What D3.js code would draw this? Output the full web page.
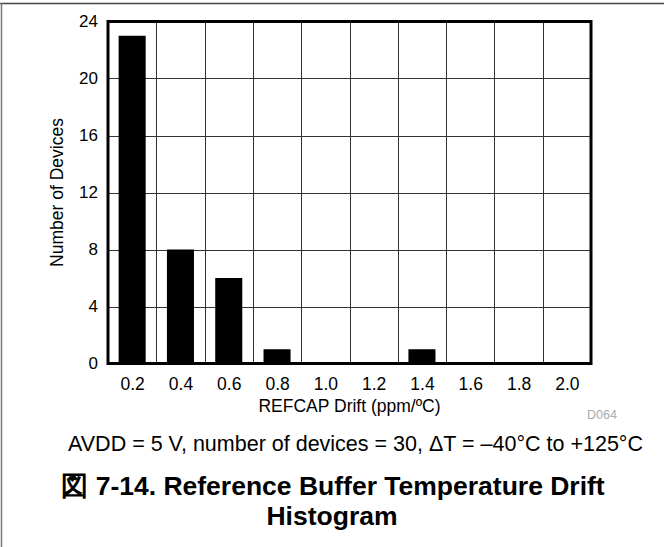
<!DOCTYPE html>
<html>
<head>
<meta charset="utf-8">
<script src="https://cdn.jsdelivr.net/npm/d3@7"></script>
<style>
  body { margin: 0; background: #fff; }
  svg { display: block; font-family: "Liberation Sans", Arial, sans-serif; }
  .grid line { stroke: #333; stroke-width: 1; }
</style>
</head>
<body>
<div id="chart"></div>
<script>
// histogram bins (ppm/ºC) and device counts
const bins = [0.2, 0.4, 0.6, 0.8, 1.0, 1.2, 1.4, 1.6, 1.8, 2.0];
const counts = [23, 8, 6, 1, 0, 0, 1, 0, 0, 0];
const yTicks = [0, 4, 8, 12, 16, 20, 24];
const xGrid = [0.3, 0.5, 0.7, 0.9, 1.1, 1.3, 1.5, 1.7, 1.9];

const W = 664, H = 547;
const pL = 108, pR = 591, pT = 21.5, pB = 363.5;
const FONT = '"Liberation Sans", Arial, sans-serif';

const svg = d3.select('#chart').append('svg')
	.attr('width', W).attr('height', H);

// page frame (top + left rule)
svg.append('line').attr('x1', 0).attr('x2', W).attr('y1', 3.5).attr('y2', 3.5)
	.attr('stroke', '#444').attr('stroke-width', 1.5);
svg.append('line').attr('x1', 1.5).attr('x2', 1.5).attr('y1', 3).attr('y2', H)
	.attr('stroke', '#777').attr('stroke-width', 1.5);

const x = d3.scaleLinear().domain([0.1, 2.1]).range([pL, pR]);
const y = d3.scaleLinear().domain([0, 24]).range([pB, pT]);
const colW = x(0.3) - x(0.1);
const barW = colW * 0.56;

const g = svg.append('g');

// grid
const grid = g.append('g').attr('class', 'grid');
grid.selectAll('.vx').data(xGrid).join('line')
	.attr('x1', d => Math.round(x(d)) + 0.5).attr('x2', d => Math.round(x(d)) + 0.5)
	.attr('y1', pT).attr('y2', pB);
grid.selectAll('.hy').data(yTicks.slice(1, -1)).join('line')
	.attr('x1', pL).attr('x2', pR)
	.attr('y1', d => Math.round(y(d)) + 0.5).attr('y2', d => Math.round(y(d)) + 0.5);

// bars
g.selectAll('rect.bar').data(bins).join('rect')
	.attr('class', 'bar')
	.attr('x', d => x(d) - barW / 2)
	.attr('width', barW)
	.attr('y', (d, i) => y(counts[i]))
	.attr('height', (d, i) => y(0) - y(counts[i]))
	.attr('fill', '#000');

// frame
g.append('rect')
	.attr('x', pL).attr('y', pT)
	.attr('width', pR - pL).attr('height', pB - pT)
	.attr('fill', 'none').attr('stroke', '#000').attr('stroke-width', 3);

// axes (labels only)
const yAxis = g.append('g')
	.attr('transform', `translate(${pL - 4},0)`)
	.call(d3.axisLeft(y).tickValues(yTicks).tickSize(0).tickPadding(6));
yAxis.select('.domain').remove();
yAxis.attr('font-size', 17).attr('font-family', FONT);
yAxis.selectAll('text').attr('fill', '#000');

const xAxis = g.append('g')
	.attr('transform', `translate(0,${pB + 2})`)
	.call(d3.axisBottom(x).tickValues(bins).tickFormat(d3.format('.1f')).tickSize(0).tickPadding(12));
xAxis.select('.domain').remove();
xAxis.attr('font-size', 17.5).attr('font-family', FONT);
xAxis.selectAll('text').attr('fill', '#000');

// titles
svg.append('text')
	.attr('transform', `translate(63,${(pT + pB) / 2}) rotate(-90)`)
	.attr('text-anchor', 'middle').attr('font-size', 17.5)
	.text('Number of Devices');
svg.append('text')
	.attr('x', (pL + pR) / 2).attr('y', 411.5)
	.attr('text-anchor', 'middle').attr('font-size', 17.5)
	.text('REFCAP Drift (ppm/ºC)');
svg.append('text')
	.attr('x', 602).attr('y', 419)
	.attr('text-anchor', 'middle').attr('font-size', 12.5).attr('fill', '#aaa')
	.text('D064');

svg.append('text')
	.attr('x', 355.5).attr('y', 450.5)
	.attr('text-anchor', 'middle').attr('font-size', 21.5)
	.text('AVDD = 5 V, number of devices = 30, ΔT = –40°C to +125°C');
svg.append('text')
	.attr('x', 333).attr('y', 495)
	.attr('text-anchor', 'middle').attr('font-size', 26.5).attr('font-weight', 'bold')
	.text('図 7-14. Reference Buffer Temperature Drift');
svg.append('text')
	.attr('x', 332).attr('y', 525)
	.attr('text-anchor', 'middle').attr('font-size', 26.5).attr('font-weight', 'bold')
	.text('Histogram');
</script>
</body>
</html>
